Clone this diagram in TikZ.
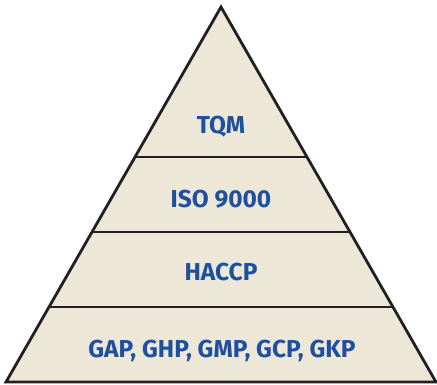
\documentclass[tikz,border=0pt]{standalone}
\usepackage{fontspec}
\setmainfont{Fira Sans}
\definecolor{pyrfill}{HTML}{EDE7D8}
\definecolor{pyrline}{HTML}{231F20}
\definecolor{pyrtext}{HTML}{1E50A0}
\begin{document}
\begin{tikzpicture}[x=1pt,y=-1pt,
  level/.style={font=\fontsize{24.5}{26}\selectfont\bfseries, text=pyrtext, inner sep=0pt},
  divider/.style={draw=pyrline, line width=2.6pt}]
\useasboundingbox (0,0) rectangle (437,384);
\coordinate (apex) at (221,7);
\coordinate (bl) at (6,382);
\coordinate (br) at (436,382);
\filldraw[fill=pyrfill, draw=pyrline, line width=2.8pt, line join=miter] (apex) -- (br) -- (bl) -- cycle;
\coordinate (l1) at (135,157); \coordinate (r1) at (307,157);
\coordinate (l2) at (92,232); \coordinate (r2) at (350,232);
\coordinate (l3) at (49,307); \coordinate (r3) at (393,307);
\draw[divider] (l1) -- (r1);
\draw[divider] (l2) -- (r2);
\draw[divider] (l3) -- (r3);
\node[level] (tqm) at (221,127) {TQM};
\node[level] (iso) at (221,199) {ISO 9000};
\node[level] (haccp) at (221,272) {HACCP};
\node[level] (gap) at (222,351) {GAP, GHP, GMP, GCP, GKP};
\end{tikzpicture}
\end{document}
